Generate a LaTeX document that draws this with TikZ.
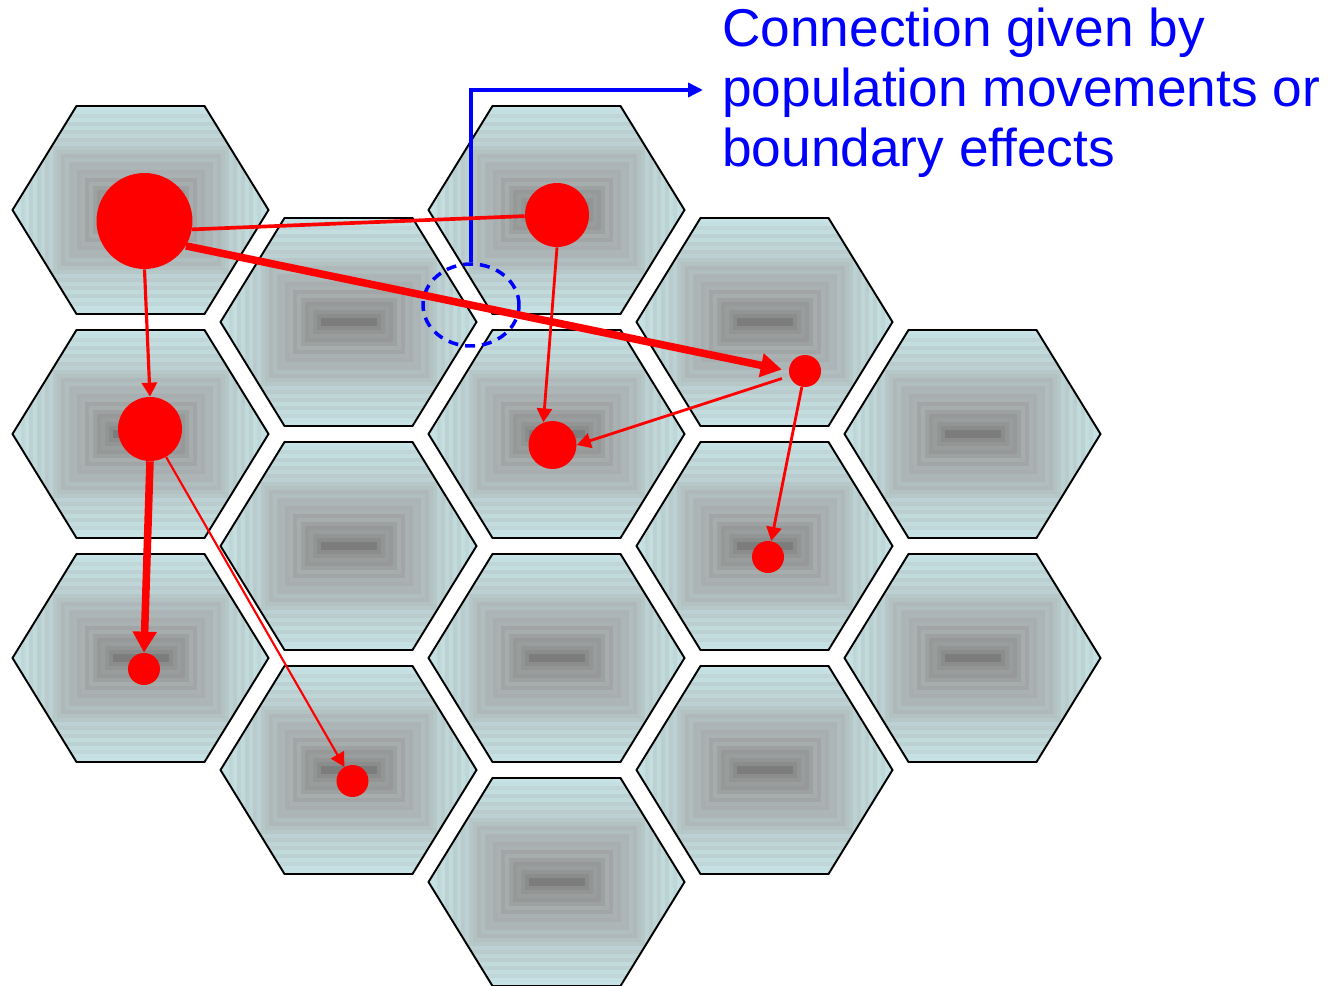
\documentclass[tikz,border=0pt]{standalone}
\usepackage{fontspec}
\setmainfont{Liberation Sans}
\usetikzlibrary{arrows.meta, shapes.geometric}

\definecolor{hexlight}{RGB}{198,226,228}
\definecolor{hexmid}{RGB}{174,184,185}
\definecolor{hexgray}{RGB}{162,165,165}
\definecolor{hexdark}{RGB}{124,124,124}

\tikzset{
    hexline/.style={draw=black, line width=1.1pt, line join=miter},
    pop/.style={circle, fill=red, inner sep=0pt},
    link/.style={red, line width=2.1pt},
    flow/.style={red, line width=1.6pt, -{Triangle[length=0.28cm, width=0.3cm]}},
    heavy/.style={red, line width=4.3pt, -{Triangle[length=0.42cm, width=0.46cm]}},
    ring/.style={ellipse, draw=blue, line width=2pt, dash pattern=on 0.2cm off 0.14cm,
        minimum width=1.92cm, minimum height=1.64cm, inner sep=0pt},
    callout/.style={blue, line width=2pt, -{Triangle[length=0.3cm, width=0.28cm]}},
    note/.style={blue, font=\fontsize{30.3}{34.1}\selectfont, align=left, inner sep=0pt}
}

\begin{document}
\begin{tikzpicture}[x=0.02cm, y=-0.02cm]
    \useasboundingbox (0,0) rectangle (1343,986);

    % Hexagon grid, each cell with a framed gradient
    \foreach \cx/\cy in {140.5/210, 140.5/434, 140.5/658,
                         348.5/322, 348.5/546, 348.5/770,
                         556.5/210, 556.5/434, 556.5/658, 556.5/882,
                         764.5/322, 764.5/546, 764.5/770,
                         972.5/434, 972.5/658} {
        \begin{scope}
            \clip (\cx-128,\cy) -- (\cx-64,\cy-104) -- (\cx+64,\cy-104)
                -- (\cx+128,\cy) -- (\cx+64,\cy+104) -- (\cx-64,\cy+104) -- cycle;
            \foreach \d/\c in {0/{hexlight}, 4/{hexlight!95!hexmid}, 8/{hexlight!75!hexmid},
                               12/{hexlight!90!hexmid}, 16/{hexlight!60!hexmid}, 20/{hexlight!80!hexmid},
                               24/{hexlight!55!hexmid}, 28/{hexlight!70!hexmid}, 32/{hexlight!45!hexmid},
                               36/{hexlight!60!hexmid}, 40/{hexlight!35!hexmid}, 44/{hexlight!20!hexmid},
                               48/{hexmid}, 52/{hexlight!15!hexmid}, 56/{hexmid!80!hexgray},
                               60/{hexmid!90!hexgray}, 64/{hexmid!50!hexgray}, 68/{hexmid!65!hexgray},
                               72/{hexgray}, 76/{hexmid!40!hexgray}, 80/{hexgray!90!hexdark},
                               84/{hexgray!70!hexdark}, 88/{hexgray!80!hexdark}, 92/{hexgray!60!hexdark},
                               96/{hexgray!40!hexdark}, 100/{hexdark}} {
                \fill[\c] (\cx-128+\d,\cy-104+\d) rectangle (\cx+128-\d,\cy+104-\d);
            }
        \end{scope}
        \draw[hexline] (\cx-128,\cy) -- (\cx-64,\cy-104) -- (\cx+64,\cy-104)
            -- (\cx+128,\cy) -- (\cx+64,\cy+104) -- (\cx-64,\cy+104) -- cycle;
    }

    % Boundary region and its label
    \node[ring] (ring) at (471,305) {};
    \coordinate (tip) at (703,90);
    \draw[callout] (ring.north) |- (tip);
    \node[note, anchor=north west] (note) at (722,8)
        {Connection given by\\population movements or\\boundary effects};

    % Populations
    \node[pop, minimum size=1.92cm] (nA) at (144.5,221) {};
    \node[pop, minimum size=1.28cm] (nB) at (557,215) {};
    \node[pop, minimum size=1.28cm] (nC) at (150,429) {};
    \node[pop, minimum size=0.96cm] (nD) at (552.5,445) {};
    \node[pop, minimum size=0.64cm] (nE) at (805,371) {};
    \node[pop, minimum size=0.64cm] (nF) at (768,557) {};
    \node[pop, minimum size=0.64cm] (nG) at (144,669) {};
    \node[pop, minimum size=0.64cm] (nH) at (352.5,781) {};

    % Connections
    \draw[link] (nA.350) -- (nB.182);
    \draw[heavy, shorten >=0.14cm] (nA.329) -- (nE.west);
    \draw[flow, line width=1.8pt] (nA.south) -- (nC.north);
    \draw[flow] (nB.south) -- (nD.112);
    \draw[flow, shorten <=0.16cm] (nE) -- (nD.east);
    \draw[flow] (nE) -- (nF);
    \draw[heavy] (nC.south) -- (nG.north);
    \draw[flow, line width=1.2pt] (nC) -- (nH);
\end{tikzpicture}
\end{document}
